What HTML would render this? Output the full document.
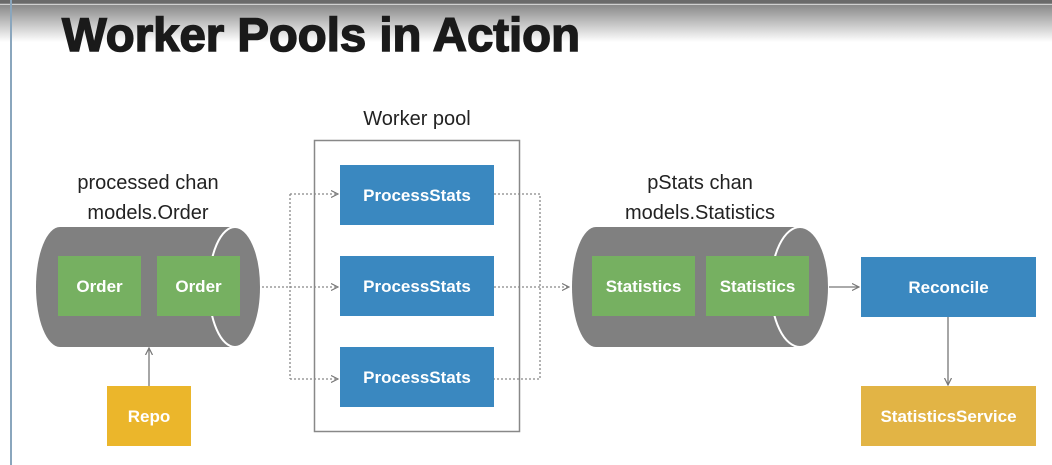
<!DOCTYPE html>
<html><head><style>
html,body{margin:0;padding:0;background:#fff;}
svg{display:block;}
</style></head><body>
<svg width="1052" height="465" viewBox="0 0 1052 465" xmlns="http://www.w3.org/2000/svg">
<defs>
<linearGradient id="top" x1="0" y1="0" x2="0" y2="1">
<stop offset="0" stop-color="#7a7a7a"/>
<stop offset="0.35" stop-color="#a8a8a8"/>
<stop offset="1" stop-color="#ffffff"/>
</linearGradient>
<marker id="ah" markerWidth="8" markerHeight="8" refX="7" refY="4" orient="auto" markerUnits="userSpaceOnUse">
<path d="M0,0.5 L7,4 L0,7.5" fill="none" stroke="#777" stroke-width="1.2"/>
</marker>
</defs>
<rect x="0" y="0" width="1052" height="42" fill="url(#top)"/>
<rect x="0" y="0" width="1052" height="3" fill="#6a6a6a"/>
<rect x="0" y="4" width="1052" height="1" fill="#d0d0d0"/>
<rect x="10" y="0" width="2" height="465" fill="#8aa6bd"/>
<text x="62" y="51" font-family="Liberation Sans, sans-serif" font-weight="bold" font-size="47" fill="#1a1a1a" stroke="#1a1a1a" stroke-width="1.5" textLength="518" lengthAdjust="spacingAndGlyphs">Worker Pools in Action</text>

<g font-family="Liberation Sans, sans-serif" font-size="20" fill="#222" text-anchor="middle">
<text x="417" y="125">Worker pool</text>
<text x="148" y="189">processed chan</text>
<text x="148" y="219">models.Order</text>
<text x="700" y="189">pStats chan</text>
<text x="700" y="219">models.Statistics</text>
</g>

<rect x="314.5" y="140.5" width="205" height="291" fill="none" stroke="#888" stroke-width="1.5"/>

<path d="M60,227 L235,227 A26,60 0 0 1 235,347 L60,347 A24,60 0 0 1 60,227 Z" fill="#808080"/>
<ellipse cx="235" cy="287" rx="26" ry="60" fill="#808080" stroke="#fff" stroke-width="2"/>
<rect x="58" y="256" width="83" height="60" fill="#76b061"/>
<rect x="157" y="256" width="83" height="60" fill="#76b061"/>

<path d="M596,227 L800,227 A29,60 0 0 1 800,347 L596,347 A24,60 0 0 1 596,227 Z" fill="#808080"/>
<ellipse cx="800" cy="287" rx="29" ry="60" fill="#808080" stroke="#fff" stroke-width="2"/>
<rect x="592" y="256" width="103" height="60" fill="#76b061"/>
<rect x="706" y="256" width="103" height="60" fill="#76b061"/>

<rect x="340" y="165" width="154" height="60" fill="#3a88c0"/>
<rect x="340" y="256" width="154" height="60" fill="#3a88c0"/>
<rect x="340" y="347" width="154" height="60" fill="#3a88c0"/>

<rect x="861" y="257" width="175" height="60" fill="#3a88c0"/>
<rect x="861" y="386" width="175" height="60" fill="#e2b445"/>
<rect x="107" y="386" width="84" height="60" fill="#ebb62b"/>

<g fill="none" stroke="#888" stroke-width="1.3" stroke-dasharray="2,2">
<path d="M262,287 L338,287" marker-end="url(#ah)"/>
<path d="M290,194 L290,379"/>
<path d="M290,194 L338,194" marker-end="url(#ah)"/>
<path d="M290,379 L338,379" marker-end="url(#ah)"/>
<path d="M494,194 L540,194 L540,379 L494,379"/>
<path d="M494,287 L569,287" marker-end="url(#ah)"/>
</g>
<g fill="none" stroke="#777" stroke-width="1.3">
<path d="M829,287 L859,287" marker-end="url(#ah)"/>
<path d="M948,317 L948,385" marker-end="url(#ah)"/>
<path d="M149,386 L149,348" marker-end="url(#ah)"/>
</g>

<g font-family="Liberation Sans, sans-serif" font-weight="bold" font-size="17" fill="#fff" text-anchor="middle">
<text x="99.5" y="292">Order</text>
<text x="198.5" y="292">Order</text>
<text x="643.5" y="292">Statistics</text>
<text x="757.5" y="292">Statistics</text>
<text x="417" y="201">ProcessStats</text>
<text x="417" y="292">ProcessStats</text>
<text x="417" y="383">ProcessStats</text>
<text x="948.5" y="293">Reconcile</text>
<text x="948.5" y="422">StatisticsService</text>
<text x="149" y="422">Repo</text>
</g>
</svg>
</body></html>
